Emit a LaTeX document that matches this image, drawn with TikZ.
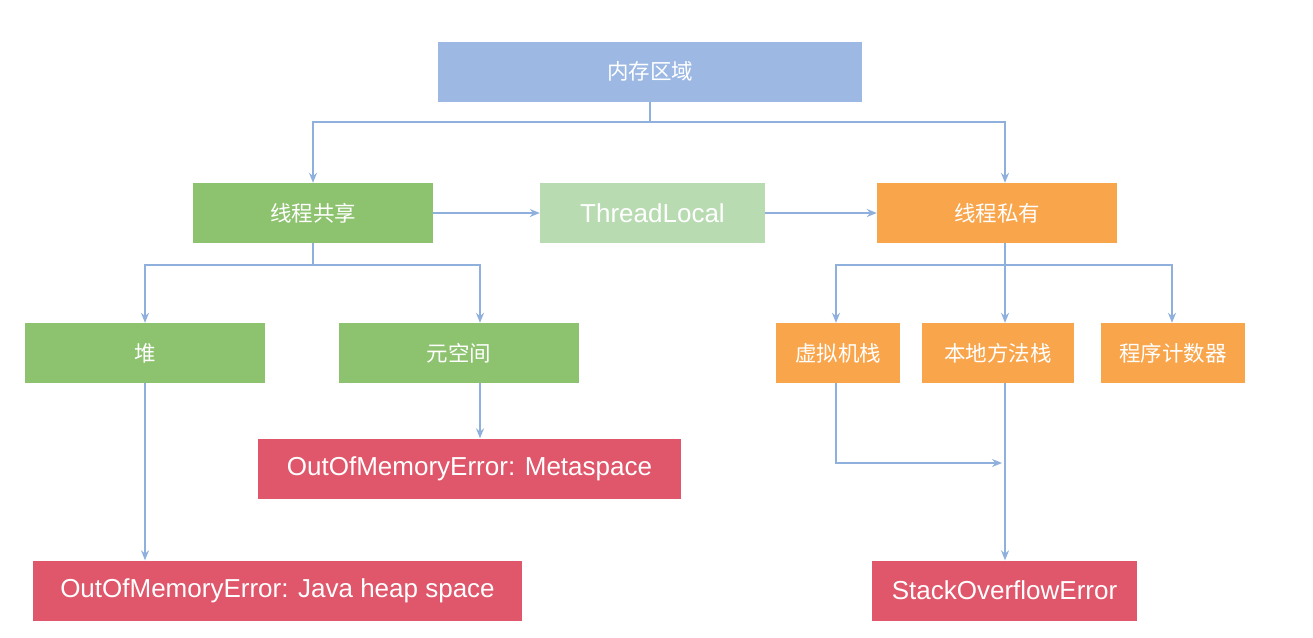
\documentclass[tikz,border=0pt]{standalone}
\usepackage{fontspec}
\setmainfont{Liberation Sans}
\newfontfamily\cjk{Noto Sans CJK SC}
\usetikzlibrary{arrows.meta}
\definecolor{cblue}{HTML}{9DB9E3}
\definecolor{cgreen}{HTML}{8DC26F}
\definecolor{clgreen}{HTML}{B8DBB2}
\definecolor{corange}{HTML}{F9A54B}
\definecolor{cred}{HTML}{E0566A}
\definecolor{cline}{HTML}{8FB0DC}
\begin{document}
\begin{tikzpicture}[x=1pt,y=-1pt,
 box/.style={minimum width=#1, minimum height=60pt, inner sep=0pt, text=white, font=\fontsize{21.5}{24}\selectfont\cjk},
 ebox/.style={box=#1, font=\fontsize{26}{30}\selectfont},
 ln/.style={draw=cline, line width=1.3pt},
 ar/.style={ln, -{Stealth[length=10pt,width=8pt]}}]
\fill[white] (0,0) rectangle (1313,637);
\node[box=424pt, fill=cblue] (mem) at (650,71.5) {内存区域};
\node[box=240pt, fill=cgreen] (share) at (313,213) {线程共享};
\node[ebox=225pt, fill=clgreen] (tl) at (652.5,213) {ThreadLocal};
\node[box=240pt, fill=corange] (priv) at (997,213) {线程私有};
\node[box=240pt, fill=cgreen] (heap) at (145,353) {堆};
\node[box=240pt, fill=cgreen] (meta) at (459,353) {元空间};
\node[box=124pt, fill=corange] (vm) at (838,353) {虚拟机栈};
\node[box=152pt, fill=corange] (nat) at (998,353) {本地方法栈};
\node[box=144pt, fill=corange] (pc) at (1173,353) {程序计数器};
\node[ebox=423pt, fill=cred] (oomm) at (469.5,468.5) {OutOfMemoryError: Metaspace};
\node[ebox=489pt, fill=cred] (oomh) at (277.5,590.5) {OutOfMemoryError: Java heap space};
\node[ebox=265pt, fill=cred] (soe) at (1004.5,590.5) {StackOverflowError};
\coordinate (j1) at (650,122);
\coordinate (j2) at (313,265);
\coordinate (j3) at (1005,265);
\coordinate (j4) at (1002,463);
\draw[ln] (mem.south) -- (j1);
\draw[ar] (j1) -| (share.north);
\draw[ar] (j1) -| ([xshift=8pt]priv.north);
\draw[ar] (share.east) -- (tl.west);
\draw[ar] (tl.east) -- (priv.west);
\draw[ln] (share.south) -- (j2);
\draw[ar] (j2) -| (heap.north);
\draw[ar] (j2) -| ([xshift=21pt]meta.north);
\draw[ln] ([xshift=8pt]priv.south) -- (j3);
\draw[ar] (j3) -| ([xshift=-2pt]vm.north);
\draw[ar] (j3) -- ([xshift=7pt]nat.north);
\draw[ar] (j3) -| ([xshift=-1pt]pc.north);
\draw[ar] ([xshift=21pt]meta.south) -- ([xshift=10.5pt]oomm.north);
\draw[ar] (heap.south) -- ([xshift=-132.5pt]oomh.north);
\draw[ar] ([xshift=-2pt]vm.south) |- (j4);
\draw[ar] ([xshift=7pt]nat.south) -- ([xshift=0.5pt]soe.north);
\end{tikzpicture}
\end{document}
